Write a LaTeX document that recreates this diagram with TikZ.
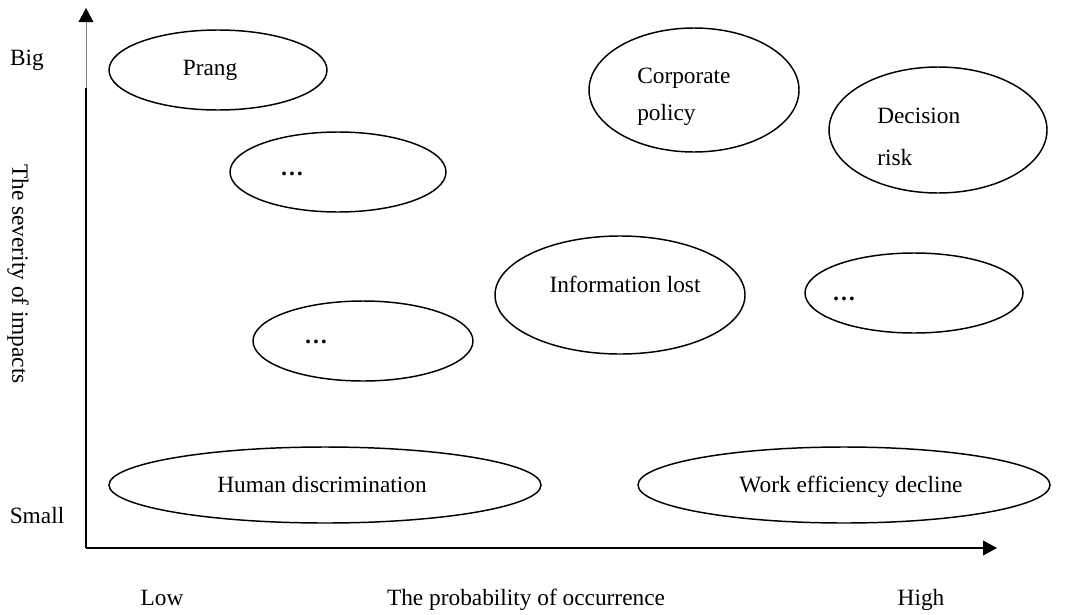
\documentclass[tikz,border=0pt]{standalone}
\usepackage{fontspec}
\setmainfont{Liberation Serif}
\usetikzlibrary{shapes.geometric,arrows.meta}
\tikzset{
	risk/.style 2 args={ellipse,draw,line width=1.1pt,inner sep=0pt,outer sep=0pt,
		minimum width=0.75pt*#1,minimum height=0.75pt*#2},
	lbl/.style={anchor=base,inner sep=0pt},
	axis/.style={line width=1.4pt},
	tip/.style={-{Triangle[length=10.5pt,width=11pt,color=black]}}
}

\begin{document}
\begin{tikzpicture}[x=0.75pt,y=-0.75pt]
\fontsize{17.5}{21}\selectfont
\useasboundingbox (0,0) rectangle (1069,614);
	% axes
	\coordinate (O)    at (86,548);
	\coordinate (Ymid) at (86,88);
	\coordinate (Ytop) at (86,8);
	\coordinate (Xend) at (997,548);
	\draw[axis,tip] (O) -- (Xend);
	\draw[axis] (O) -- (Ymid);
	\draw[gray,line width=0.6pt,tip] (Ymid) -- (Ytop);
	% risks
	\draw (218,70)  node[risk={218}{80}]  (prang) {};
	\draw (338,172) node[risk={216}{80}]  (dotsA) {};
	\draw (694,90)  node[risk={210}{124}] (corp)  {};
	\draw (938,130) node[risk={218}{126}] (deci)  {};
	\draw (620,295) node[risk={250}{118}] (info)  {};
	\draw (914,293) node[risk={218}{80}]  (dotsB) {};
	\draw (363,341) node[risk={220}{80}]  (dotsC) {};
	\draw (325,485) node[risk={432}{76}]  (human) {};
	\draw (844,485) node[risk={412}{76}]  (work)  {};
	% texts in the risks
	\node[lbl] (prangT) at (210,75)  {Prang};
	\node[lbl] (dotsAT) at (292,175) {\bfseries …};
	\node[lbl,anchor=base west] (corpT)  at (637,83)  {Corporate};
	\node[lbl,anchor=base west] (corpT2) at (637,120) {policy};
	\node[lbl,anchor=base west] (deciT)  at (877,123) {Decision};
	\node[lbl,anchor=base west] (deciT2) at (877,165) {risk};
	\node[lbl] (infoT)  at (625,292) {Information lost};
	\node[lbl] (dotsBT) at (844,300) {\bfseries …};
	\node[lbl] (dotsCT) at (316,343) {\bfseries …};
	\node[lbl] (humanT) at (322,492) {Human discrimination};
	\node[lbl] (workT)  at (851,492) {Work efficiency decline};
	% axis labels
	\node[lbl] (big)   at (27,65)   {Big};
	\node[lbl] (small) at (37,523)  {Small};
	\node[lbl] (low)   at (162,605) {Low};
	\node[lbl] (prob)  at (526,605) {The probability of occurrence};
	\node[lbl] (high)  at (921,605) {High};
	\node[rotate=-90,inner sep=0pt] (sev) at (18,274) {The severity of impacts};
\end{tikzpicture}
\end{document}
